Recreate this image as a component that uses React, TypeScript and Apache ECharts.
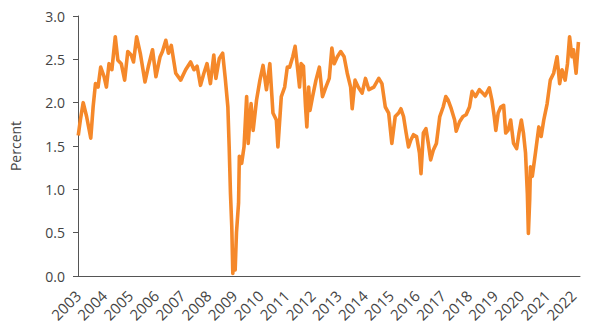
import React, { useEffect, useRef } from "react";
import * as echarts from "echarts";

const years: number[] = [
  2003.01, 2003.09, 2003.2, 2003.33, 2003.42, 2003.49, 2003.58, 2003.67, 2003.77, 2003.87,
  2004.0, 2004.09, 2004.19, 2004.3, 2004.43, 2004.53, 2004.66, 2004.79, 2004.91, 2005.04,
  2005.13, 2005.25, 2005.39, 2005.57, 2005.7, 2005.86, 2005.99, 2006.15, 2006.24, 2006.37,
  2006.47, 2006.58, 2006.75, 2006.94, 2007.13, 2007.32, 2007.45, 2007.57, 2007.7, 2007.83,
  2007.95, 2008.08, 2008.21, 2008.29, 2008.42, 2008.55, 2008.65, 2008.75, 2008.8, 2008.85,
  2008.9, 2008.94, 2008.98, 2009.03, 2009.08, 2009.16, 2009.19, 2009.28, 2009.37, 2009.47,
  2009.53, 2009.64, 2009.72, 2009.85, 2009.98, 2010.1, 2010.23, 2010.36, 2010.48, 2010.61,
  2010.67, 2010.8, 2010.93, 2011.03, 2011.12, 2011.24, 2011.33, 2011.43, 2011.5, 2011.56,
  2011.65, 2011.73, 2011.78, 2011.85, 2011.9, 2012.0, 2012.13, 2012.26, 2012.38, 2012.51,
  2012.64, 2012.74, 2012.83, 2012.95, 2013.08, 2013.21, 2013.33, 2013.46, 2013.52, 2013.63,
  2013.75, 2013.9, 2014.03, 2014.16, 2014.35, 2014.54, 2014.66, 2014.79, 2014.92, 2015.04,
  2015.17, 2015.3, 2015.39, 2015.49, 2015.59, 2015.68, 2015.77, 2015.87, 2015.99, 2016.1,
  2016.16, 2016.25, 2016.35, 2016.44, 2016.53, 2016.63, 2016.75, 2016.88, 2017.01, 2017.11,
  2017.2, 2017.32, 2017.45, 2017.51, 2017.64, 2017.77, 2017.89, 2018.02, 2018.12, 2018.25,
  2018.4, 2018.53, 2018.62, 2018.78, 2018.88, 2018.97, 2019.03, 2019.12, 2019.22, 2019.33,
  2019.41, 2019.5, 2019.6, 2019.71, 2019.83, 2019.92, 2020.01, 2020.09, 2020.17, 2020.24,
  2020.28, 2020.33, 2020.36, 2020.43, 2020.55, 2020.68, 2020.77, 2020.87, 2021.0, 2021.12,
  2021.25, 2021.38, 2021.48, 2021.57, 2021.69, 2021.78, 2021.86, 2021.95, 2022.01, 2022.11,
  2022.2,
];

const rates: number[] = [
  1.62, 1.8, 2.0, 1.84, 1.7, 1.59, 1.95, 2.22, 2.18, 2.41,
  2.3, 2.18, 2.45, 2.38, 2.76, 2.49, 2.45, 2.26, 2.59, 2.55,
  2.47, 2.76, 2.57, 2.24, 2.42, 2.61, 2.3, 2.53, 2.59, 2.72,
  2.57, 2.66, 2.34, 2.26, 2.38, 2.47, 2.38, 2.42, 2.2, 2.34,
  2.45, 2.22, 2.55, 2.28, 2.51, 2.57, 2.28, 1.95, 1.49, 0.95,
  0.57, 0.03, 0.3, 0.07, 0.5, 0.84, 1.38, 1.3, 1.49, 2.07,
  1.53, 1.99, 1.68, 2.03, 2.26, 2.43, 2.15, 2.45, 1.88, 1.8,
  1.49, 2.07, 2.18, 2.41, 2.41, 2.53, 2.65, 2.38, 2.18, 2.45,
  2.42, 1.95, 1.72, 2.18, 1.91, 2.07, 2.26, 2.41, 2.07, 2.18,
  2.28, 2.63, 2.45, 2.53, 2.59, 2.53, 2.34, 2.18, 1.93, 2.26,
  2.18, 2.11, 2.28, 2.15, 2.18, 2.28, 2.22, 1.95, 1.88, 1.53,
  1.84, 1.88, 1.93, 1.84, 1.65, 1.49, 1.57, 1.63, 1.61, 1.42,
  1.18, 1.65, 1.7, 1.53, 1.34, 1.45, 1.53, 1.84, 1.95, 2.07,
  2.03, 1.93, 1.8, 1.67, 1.78, 1.84, 1.86, 1.95, 2.13, 2.07,
  2.15, 2.11, 2.08, 2.17, 2.03, 1.84, 1.68, 1.88, 1.95, 1.97,
  1.65, 1.68, 1.8, 1.53, 1.47, 1.65, 1.8, 1.65, 1.42, 0.95,
  0.49, 0.88, 1.26, 1.15, 1.42, 1.72, 1.61, 1.8, 1.99, 2.26,
  2.34, 2.53, 2.22, 2.38, 2.26, 2.45, 2.76, 2.53, 2.61, 2.34,
  2.7,
];

const yTicks = { min: 0, max: 3, interval: 0.5 };
const xRange = { min: 2003, max: 2022.26, interval: 1 };
const yAxisName = "Percent";

export default function App() {
  const ref = useRef<HTMLDivElement>(null);
  useEffect(() => {
    document.body.style.margin = "0";
    if (!ref.current) return;
    const chart = echarts.init(ref.current, undefined, { renderer: "svg" });
    const font = "'Open Sans', sans-serif";
    chart.setOption({
      animation: false,
      grid: { left: 73, right: 16, top: 16, bottom: 59 },
      xAxis: {
        type: "value",
        min: xRange.min,
        max: xRange.max,
        interval: xRange.interval,
        axisLine: { show: true, lineStyle: { color: "#555", width: 1 } },
        axisTick: { show: false },
        splitLine: { show: false },
        axisLabel: {
          rotate: 45,
          margin: 17,
          color: "#444",
          fontSize: 15,
          fontFamily: font,
          showMaxLabel: true,
          formatter: (v: number) => (Math.abs(v - Math.round(v)) < 1e-6 ? String(Math.round(v)) : ""),
        },
      },
      yAxis: {
        type: "value",
        min: yTicks.min,
        max: yTicks.max,
        interval: yTicks.interval,
        name: yAxisName,
        nameLocation: "middle",
        nameGap: 56,
        nameTextStyle: { color: "#444", fontSize: 14, fontFamily: font },
        axisLine: { show: true, lineStyle: { color: "#555", width: 1 } },
        axisTick: { show: true, inside: false, length: 5, lineStyle: { color: "#555" } },
        splitLine: { show: false },
        axisLabel: {
          margin: 13,
          color: "#444",
          fontSize: 14,
          fontFamily: font,
          formatter: (v: number) => v.toFixed(1),
        },
      },
      series: [
        {
          type: "line",
          data: years.map((y, i) => [y, rates[i]]),
          showSymbol: false,
          symbol: "none",
          lineStyle: { color: "#F5882A", width: 3.6, join: "round" },
          itemStyle: { color: "#F5882A" },
        },
      ],
    });
    return () => chart.dispose();
  }, []);
  return <div ref={ref} style={{ width: 596, height: 335 }} />;
}
